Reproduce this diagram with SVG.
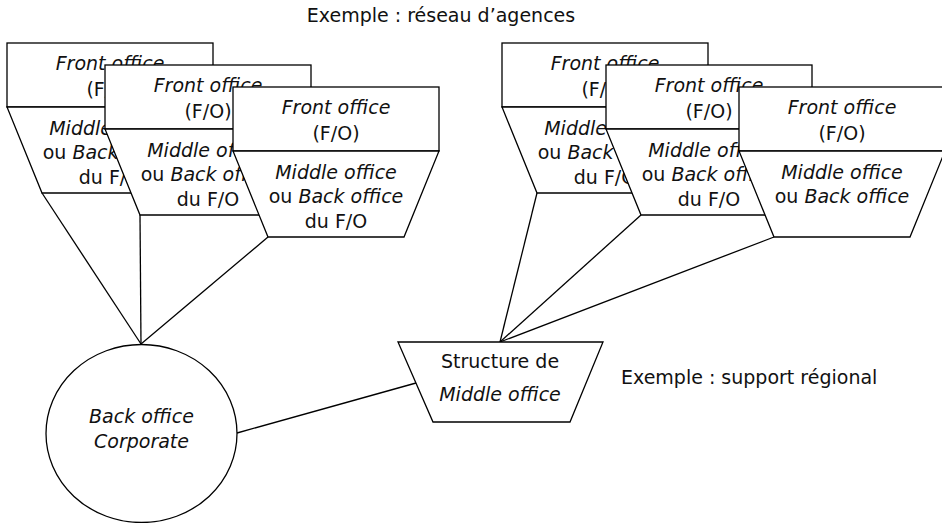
<svg xmlns="http://www.w3.org/2000/svg" width="942" height="523" viewBox="0 0 942 523">
  <defs>
    <style>
      .shape { fill: #ffffff; stroke: #000000; stroke-width: 1.3; }
      .link { fill: none; stroke: #000000; stroke-width: 1.3; }
      text { font-family: "DejaVu Sans", "Noto Sans", sans-serif; font-size: 19px; fill: #111111; }
      .c { text-anchor: middle; }
      .i { font-style: italic; }
    </style>
    <!-- office unit: front-office box above a middle/back-office trapezoid -->
    <g id="unit-shape">
      <rect class="shape" x="0" y="0" width="206" height="64"/>
      <polygon class="shape" points="0,64 206,64 171,150 35,150"/>
    </g>
  </defs>

  <rect width="942" height="523" fill="#ffffff"/>

  <text class="c" x="441" y="22">Exemple : réseau d’agences</text>
  <text x="621" y="384">Exemple : support régional</text>

  <g id="connectors">
    <line class="link" x1="42" y1="193" x2="141" y2="344"/>
    <line class="link" x1="140" y1="215" x2="141" y2="344"/>
    <line class="link" x1="268" y1="237" x2="141" y2="344"/>
    <line class="link" x1="237" y1="433" x2="416" y2="383"/>
    <line class="link" x1="537" y1="193" x2="500" y2="342"/>
    <line class="link" x1="641" y1="215" x2="500" y2="342"/>
    <line class="link" x1="774" y1="237" x2="500" y2="342"/>
  </g>

  <!-- branch network -->
  <g id="agence-l1" transform="translate(7,43)">
    <use href="#unit-shape"/>
    <text class="c i" x="103" y="27">Front office</text>
    <text class="c" x="103" y="53">(F/O)</text>
    <text class="c" x="103" y="92"><tspan class="i">Middle office</tspan></text>
    <text class="c" x="103" y="116">ou <tspan class="i">Back office</tspan></text>
    <text class="c" x="103" y="141">du F/O</text>
  </g>
  <g id="agence-l2" transform="translate(105,65)">
    <use href="#unit-shape"/>
    <text class="c i" x="103" y="27">Front office</text>
    <text class="c" x="103" y="53">(F/O)</text>
    <text class="c" x="103" y="92"><tspan class="i">Middle office</tspan></text>
    <text class="c" x="103" y="116">ou <tspan class="i">Back office</tspan></text>
    <text class="c" x="103" y="141">du F/O</text>
  </g>
  <g id="agence-l3" transform="translate(233,87)">
    <use href="#unit-shape"/>
    <text class="c i" x="103" y="27">Front office</text>
    <text class="c" x="103" y="53">(F/O)</text>
    <text class="c" x="103" y="92"><tspan class="i">Middle office</tspan></text>
    <text class="c" x="103" y="116">ou <tspan class="i">Back office</tspan></text>
    <text class="c" x="103" y="141">du F/O</text>
  </g>

  <!-- regional support -->
  <g id="agence-r1" transform="translate(502,43)">
    <use href="#unit-shape"/>
    <text class="c i" x="103" y="27">Front office</text>
    <text class="c" x="103" y="53">(F/O)</text>
    <text class="c" x="103" y="92"><tspan class="i">Middle office</tspan></text>
    <text class="c" x="103" y="116">ou <tspan class="i">Back office</tspan></text>
    <text class="c" x="103" y="141">du F/O</text>
  </g>
  <g id="agence-r2" transform="translate(606,65)">
    <use href="#unit-shape"/>
    <text class="c i" x="103" y="27">Front office</text>
    <text class="c" x="103" y="53">(F/O)</text>
    <text class="c" x="103" y="92"><tspan class="i">Middle office</tspan></text>
    <text class="c" x="103" y="116">ou <tspan class="i">Back office</tspan></text>
    <text class="c" x="103" y="141">du F/O</text>
  </g>
  <g id="agence-r3" transform="translate(739,87)">
    <use href="#unit-shape"/>
    <text class="c i" x="103" y="27">Front office</text>
    <text class="c" x="103" y="53">(F/O)</text>
    <text class="c" x="103" y="92"><tspan class="i">Middle office</tspan></text>
    <text class="c" x="103" y="116">ou <tspan class="i">Back office</tspan></text>
  </g>

  <g id="middle-office-structure">
    <polygon class="shape" points="398,342 603,342 570,422 433,422"/>
    <text class="c" x="500" y="368">Structure de</text>
    <text class="c i" x="500" y="401">Middle office</text>
  </g>

  <g id="back-office-corporate">
    <ellipse class="shape" cx="141.5" cy="433.5" rx="95.5" ry="89"/>
    <text class="c i" x="141.5" y="423">Back office</text>
    <text class="c i" x="141.5" y="448">Corporate</text>
  </g>
</svg>
